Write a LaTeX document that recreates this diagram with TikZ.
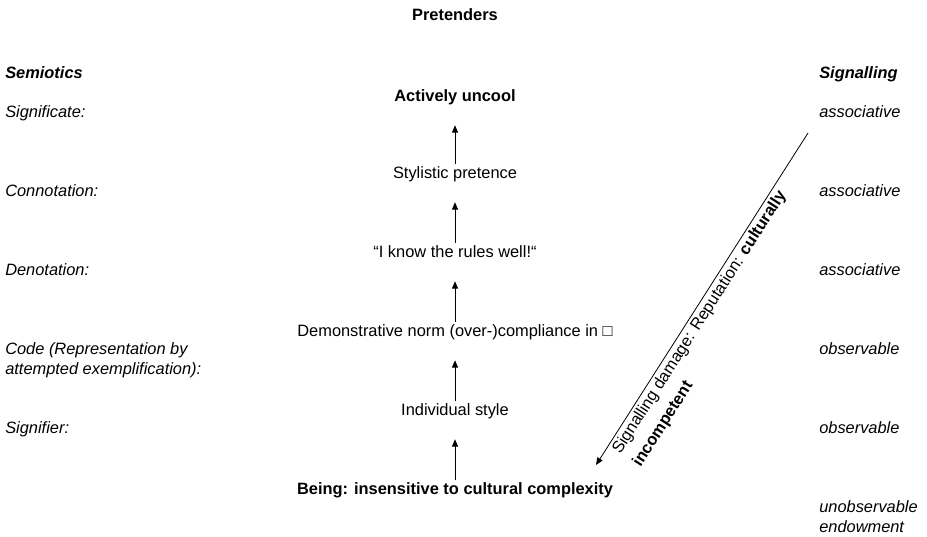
\documentclass[tikz,border=0pt]{standalone}
\usepackage{fontspec}
\setmainfont{Liberation Sans}
\usetikzlibrary{arrows.meta}

\tikzset{
  txt/.style={inner sep=0pt,font=\fontsize{12.3}{15}\selectfont},
  level/.style={txt,anchor=base,text height=9pt,text depth=3pt},
  levelbold/.style={level,font=\fontsize{12.3}{15}\selectfont\bfseries},
  semio/.style={txt,anchor=base west,font=\fontsize{12.3}{15}\selectfont\itshape},
  colhead/.style={txt,anchor=base west,font=\fontsize{12.3}{15}\selectfont\bfseries\itshape},
  uparrow/.style={line width=0.6pt,-{Triangle[width=4.5pt,length=5.5pt]},shorten <=1.5pt,shorten >=15pt}
}

\begin{document}
\begin{tikzpicture}[x=0.75pt,y=-0.75pt]
\useasboundingbox (0,0) rectangle (927,536);

\node [txt,anchor=base,font=\fontsize{12.3}{15}\selectfont\bfseries] at (455,20) (title) {Pretenders};

%%% SEMIOTICS %%%
\node [colhead] at (5,78) (semiotics) {Semiotics};
\node [semio] at (5,117) (significate) {Significate:};
\node [semio] at (5,196) (connotation) {Connotation:};
\node [semio] at (5,275) (denotation) {Denotation:};
\node [semio,anchor=north west,align=left] at (5,342) (code) {Code (Representation by\\attempted exemplification):};
\node [semio] at (5,433) (signifier) {Signifier:};

%%% SIGNALLING %%%
\node [colhead] at (819,78) (signalling) {Signalling};
\node [semio] at (819,117) (sig1) {associative};
\node [semio] at (819,196) (sig2) {associative};
\node [semio] at (819,275) (sig3) {associative};
\node [semio] at (819,354) (sig4) {observable};
\node [semio] at (819,433) (sig5) {observable};
\node [semio,anchor=north west,align=left] at (819,500) (sig6) {unobservable\\endowment};

%%% LEVELS %%%
\node [levelbold] at (455,101) (uncool) {Actively uncool};
\node [level] at (455,178) (pretence) {Stylistic pretence};
\node [level] at (455,257) (rules) {“I know the rules well!“};
\node [level] at (455,336) (compliance) {Demonstrative norm (over-)compliance in □};
\node [level] at (455,415) (style) {Individual style};
\node [levelbold] at (455,494) (being) {Being: insensitive to cultural complexity};

\draw [uparrow] (being) -- (style);
\draw [uparrow] (style) -- (compliance);
\draw [uparrow] (compliance) -- (rules);
\draw [uparrow] (rules) -- (pretence);
\draw [uparrow] (pretence) -- (uncool);

%%% DAMAGE %%%
\coordinate (damage_top) at (808,133);
\coordinate (damage_tip) at (596,465);
\draw [line width=0.6pt,{Triangle[width=4.5pt,length=5.5pt]}-] (damage_tip) -- (damage_top)
  node [txt,pos=0.447,sloped,below,inner sep=2pt,align=left] (damage) {Signalling damage: Reputation: \textbf{culturally}\\[3pt]\textbf{incompetent}};
\end{tikzpicture}
\end{document}
